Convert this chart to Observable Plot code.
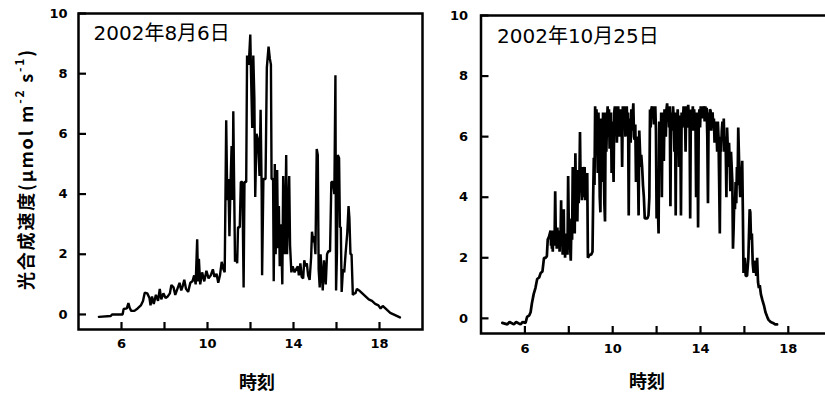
<!DOCTYPE html>
<html>
<head>
<meta charset="utf-8">
<script src="https://cdn.jsdelivr.net/npm/d3@7"></script>
<script src="https://cdn.jsdelivr.net/npm/@observablehq/plot@0.6"></script>
<style>
  html, body { margin: 0; padding: 0; background: #fff; }
  #fig { position: relative; width: 825px; height: 399px; overflow: hidden; background: #fff; }
  #fig svg { position: absolute; top: 0; overflow: visible; }
</style>
</head>
<body>
<div id="fig"></div>
<script>
// Photosynthetic rate over the day, [hour, µmol m-2 s-1]
const aug6 = [
  [4.95,-0.08],[5.5,-0.05],[5.56,0.0],[6.05,0.0],[6.1,0.18],[6.25,0.2],[6.32,0.38],[6.38,0.22],
  [6.45,0.12],[6.6,0.12],[6.75,0.2],[6.9,0.3],[7.0,0.45],[7.08,0.72],[7.2,0.7],[7.3,0.55],
  [7.35,0.3],[7.42,0.6],[7.5,0.35],[7.6,0.65],[7.7,0.45],[7.78,0.85],[7.85,0.5],[7.95,0.7],
  [8.05,0.55],[8.15,0.6],[8.25,0.7],[8.32,0.98],[8.42,0.9],[8.5,0.65],[8.6,0.85],[8.7,1.05],
  [8.78,0.8],[8.85,0.95],[8.92,1.15],[9.0,0.85],[9.1,0.75],[9.2,1.05],[9.3,1.1],[9.38,1.3],
  [9.45,1.0],[9.52,2.5],[9.56,1.1],[9.6,1.85],[9.66,1.0],[9.75,1.4],[9.85,1.1],[9.95,1.45],
  [10.05,1.2],[10.15,1.3],[10.25,1.5],[10.32,1.25],[10.42,1.35],[10.5,1.05],[10.58,1.3],[10.66,1.75],
  [10.74,1.5],[10.8,1.4],[10.87,6.45],[10.92,3.8],[10.97,4.5],[11.02,2.6],[11.07,4.3],[11.12,5.6],
  [11.17,3.8],[11.2,6.75],[11.24,4.2],[11.28,1.75],[11.33,2.0],[11.38,1.7],[11.42,2.9],[11.5,2.9],
  [11.55,4.4],[11.62,4.4],[11.68,0.9],[11.72,4.4],[11.8,4.4],[11.84,8.6],[11.92,8.3],[11.99,9.3],
  [12.03,7.8],[12.08,6.2],[12.13,8.6],[12.18,7.2],[12.22,3.9],[12.28,6.0],[12.35,5.8],[12.42,4.6],
  [12.47,6.8],[12.52,4.1],[12.54,1.3],[12.6,4.5],[12.7,4.5],[12.76,8.2],[12.84,8.9],[12.9,8.5],
  [12.95,8.3],[12.98,4.5],[13.05,4.5],[13.08,1.1],[13.13,5.0],[13.17,2.0],[13.2,3.0],[13.24,4.8],
  [13.28,2.2],[13.32,3.6],[13.36,1.6],[13.4,3.0],[13.44,2.2],[13.48,1.0],[13.52,4.6],[13.56,3.2],
  [13.6,2.0],[13.66,5.3],[13.7,2.0],[13.74,3.0],[13.8,4.6],[13.84,2.3],[13.9,1.4],[13.96,1.6],
  [14.05,1.4],[14.12,1.5],[14.2,1.6],[14.25,1.3],[14.32,1.7],[14.38,1.25],[14.45,1.2],[14.5,1.8],
  [14.56,1.6],[14.62,1.7],[14.68,1.3],[14.75,1.15],[14.82,1.9],[14.86,2.75],[14.92,2.4],[14.96,2.6],
  [15.02,2.0],[15.08,5.5],[15.13,5.3],[15.17,1.5],[15.22,0.9],[15.26,2.0],[15.32,1.3],[15.36,0.8],
  [15.42,1.8],[15.5,1.0],[15.56,2.0],[15.62,2.1],[15.7,2.1],[15.76,4.4],[15.84,4.4],[15.9,4.0],
  [15.95,7.95],[15.98,0.8],[16.02,2.0],[16.06,5.3],[16.12,5.2],[16.16,2.9],[16.2,2.9],[16.24,0.75],
  [16.3,1.5],[16.36,1.4],[16.42,2.0],[16.5,2.7],[16.56,3.6],[16.6,3.2],[16.65,2.0],[16.7,2.0],
  [16.76,0.65],[16.82,0.7],[16.88,0.7],[16.95,0.85],[17.05,0.8],[17.2,0.7],[17.35,0.6],[17.5,0.5],
  [17.65,0.45],[17.8,0.35],[17.95,0.3],[18.05,0.2],[18.15,0.28],[18.25,0.22],[18.35,0.15],[18.5,0.05],
  [18.65,0.0],[18.8,-0.05],[18.95,-0.1]
];

const oct25 = [
  [4.97,-0.15],[5.2,-0.2],[5.3,-0.12],[5.5,-0.2],[5.6,-0.12],[5.8,-0.2],[5.9,-0.12],[6.03,-0.15],
  [6.1,0.05],[6.2,0.1],[6.26,0.2],[6.32,0.5],[6.4,0.8],[6.48,1.0],[6.56,1.3],[6.65,1.35],
  [6.72,1.5],[6.8,1.55],[6.87,2.0],[6.95,2.0],[7.0,2.05],[7.04,2.6],[7.1,2.7],[7.17,2.9],
  [7.19,2.4],[7.21,2.9],[7.23,2.3],[7.25,2.8],[7.27,2.2],[7.29,2.8],[7.31,2.5],[7.33,2.9],
  [7.35,2.4],[7.38,4.2],[7.41,2.6],[7.43,2.9],[7.45,2.3],[7.48,3.0],[7.5,2.4],[7.52,2.9],
  [7.54,2.5],[7.56,2.8],[7.58,2.2],[7.6,2.7],[7.62,2.4],[7.65,3.9],[7.67,2.4],[7.7,2.9],
  [7.72,2.1],[7.74,2.8],[7.77,3.6],[7.79,2.3],[7.81,2.8],[7.83,2.0],[7.86,2.7],[7.88,2.2],
  [7.91,2.8],[7.94,2.1],[7.97,4.7],[8.0,3.0],[8.03,3.3],[8.06,2.4],[8.09,1.9],[8.12,3.2],
  [8.15,2.6],[8.18,5.0],[8.21,3.6],[8.24,4.2],[8.27,2.8],[8.3,5.45],[8.33,3.5],[8.36,4.6],
  [8.39,3.2],[8.42,4.9],[8.45,3.8],[8.48,4.4],[8.51,6.15],[8.54,4.2],[8.57,4.9],[8.6,3.9],
  [8.63,5.0],[8.66,4.0],[8.69,4.6],[8.72,5.0],[8.75,3.9],[8.78,4.8],[8.81,4.2],[8.84,4.8],
  [8.87,2.0],[8.95,2.1],[9.02,2.1],[9.08,2.2],[9.11,4.0],[9.14,5.3],[9.17,4.4],[9.2,7.0],
  [9.23,5.5],[9.26,6.9],[9.29,6.0],[9.32,4.8],[9.35,6.8],[9.38,5.8],[9.41,4.0],[9.44,3.5],
  [9.47,6.6],[9.5,5.8],[9.53,4.5],[9.56,6.8],[9.59,5.2],[9.62,3.8],[9.65,3.2],[9.68,6.8],
  [9.71,5.5],[9.74,6.5],[9.77,7.0],[9.8,6.0],[9.83,6.9],[9.86,5.6],[9.89,6.5],[9.92,6.8],
  [9.95,4.8],[9.98,6.5],[10.01,5.6],[10.04,4.5],[10.07,6.8],[10.1,7.0],[10.13,6.2],[10.16,7.0],
  [10.19,5.8],[10.22,6.6],[10.25,7.0],[10.28,6.4],[10.31,6.0],[10.34,6.9],[10.37,6.5],[10.4,6.8],
  [10.43,5.0],[10.46,7.0],[10.49,6.3],[10.52,6.8],[10.55,7.0],[10.58,6.0],[10.61,6.5],[10.64,7.0],
  [10.67,6.2],[10.7,6.8],[10.73,3.4],[10.76,6.6],[10.79,6.0],[10.82,5.8],[10.85,6.9],[10.88,6.2],
  [10.91,6.7],[10.94,7.1],[10.97,6.0],[11.0,5.9],[11.03,6.4],[11.06,4.5],[11.09,6.0],[11.12,5.4],
  [11.15,5.0],[11.18,3.4],[11.21,6.2],[11.24,5.6],[11.27,5.0],[11.3,5.4],[11.34,5.0],[11.38,4.4],
  [11.42,4.0],[11.46,3.3],[11.52,3.3],[11.58,3.3],[11.63,3.4],[11.67,4.0],[11.7,6.9],[11.73,6.3],
  [11.76,6.9],[11.79,7.0],[11.82,6.6],[11.85,7.0],[11.88,6.4],[11.91,6.8],[11.94,7.0],[11.97,6.2],
  [12.0,3.3],[12.03,4.5],[12.06,3.6],[12.09,2.8],[12.12,6.5],[12.15,5.8],[12.18,5.0],[12.21,6.8],
  [12.24,4.0],[12.27,6.8],[12.3,6.2],[12.33,5.2],[12.36,6.9],[12.39,6.4],[12.42,6.0],[12.45,6.9],
  [12.48,7.1],[12.51,6.5],[12.54,7.0],[12.57,6.3],[12.6,7.0],[12.63,3.7],[12.66,6.8],[12.69,6.2],
  [12.72,6.5],[12.75,7.0],[12.78,6.6],[12.81,5.5],[12.84,6.8],[12.87,3.4],[12.9,6.8],[12.93,6.2],
  [12.96,6.9],[12.99,6.4],[13.02,5.0],[13.05,6.7],[13.08,6.1],[13.11,3.4],[13.14,6.8],[13.17,6.3],
  [13.2,6.5],[13.23,7.0],[13.26,6.4],[13.29,6.9],[13.32,5.5],[13.35,7.0],[13.38,6.3],[13.41,6.5],
  [13.44,7.05],[13.47,6.6],[13.5,6.8],[13.53,3.3],[13.56,6.9],[13.59,6.2],[13.62,6.5],[13.65,7.0],
  [13.68,6.2],[13.71,6.9],[13.74,6.4],[13.77,6.6],[13.8,4.0],[13.83,6.8],[13.86,6.1],[13.89,3.0],
  [13.92,6.5],[13.95,6.9],[13.98,6.3],[14.01,7.0],[14.04,6.7],[14.07,7.0],[14.1,6.6],[14.13,7.0],
  [14.16,6.9],[14.19,6.5],[14.22,7.0],[14.25,6.8],[14.28,6.95],[14.31,6.0],[14.34,3.8],[14.37,6.8],
  [14.4,6.4],[14.43,6.9],[14.46,6.85],[14.49,6.2],[14.52,6.7],[14.55,6.8],[14.58,6.3],[14.61,6.6],
  [14.64,5.8],[14.67,6.0],[14.7,6.5],[14.73,6.1],[14.76,5.5],[14.79,6.5],[14.82,6.0],[14.85,4.5],
  [14.88,2.8],[14.91,6.0],[14.94,5.5],[14.97,6.2],[15.0,6.5],[15.03,5.9],[15.06,6.6],[15.09,5.5],
  [15.12,6.0],[15.15,5.6],[15.18,4.0],[15.21,6.3],[15.24,5.7],[15.27,5.0],[15.3,5.8],[15.33,5.2],
  [15.36,4.2],[15.39,5.5],[15.42,5.0],[15.45,4.5],[15.48,2.3],[15.51,3.0],[15.54,4.0],[15.57,3.6],
  [15.6,4.5],[15.63,3.8],[15.66,5.0],[15.69,4.4],[15.72,6.3],[15.75,5.4],[15.78,4.5],[15.81,4.0],
  [15.84,5.0],[15.87,4.6],[15.9,5.2],[15.93,3.5],[15.96,1.5],[16.02,2.0],[16.06,1.4],[16.12,1.4],
  [16.18,2.0],[16.24,3.6],[16.27,3.5],[16.3,2.6],[16.34,2.8],[16.38,1.8],[16.42,1.5],[16.46,1.8],
  [16.5,1.9],[16.54,1.4],[16.58,2.0],[16.62,1.2],[16.66,1.0],[16.7,1.1],[16.75,0.8],[16.82,0.6],
  [16.9,0.4],[16.96,0.2],[17.04,0.05],[17.1,-0.05],[17.2,-0.12],[17.3,-0.15],[17.4,-0.2],[17.49,-0.2]
];

const panelTitles = ["2002年8月6日", "2002年10月25日"];
const xTicks = [6, 8, 10, 12, 14, 16, 18];
const xTickLabels = [6, 10, 14, 18];
const yTicks = [0, 2, 4, 6, 8, 10];
const xDomain = [4, 20];
const yDomain = [-0.5, 10];
const xLabel = "時刻";
const yLabel = ["光合成速度(μmol m", "-2", " s", "-1", ")"];

const tickFont = "'DejaVu Sans', sans-serif";
const cjkFont = "'DejaVu Sans', 'Noto Sans CJK JP', sans-serif";

function panel(series, title, o) {
  const frameW = o.plotWidth;
  const frameH = o.bottom - o.top;
  // inward tick length in pixels, expressed in each scale's units
  const yTickLen = 8 * (xDomain[1] - xDomain[0]) / frameW;
  const xTickLen = 7 * (yDomain[1] - yDomain[0]) / frameH;
  const svg = Plot.plot({
    width: o.width,
    height: 399,
    marginLeft: o.left,
    marginRight: o.width - o.left - o.plotWidth,
    marginTop: o.top,
    marginBottom: 399 - o.bottom,
    x: {domain: xDomain},
    y: {domain: yDomain},
    style: {background: "transparent", color: "#000"},
    marks: [
      // short tick marks pointing into the frame
      Plot.ruleY(yTicks, {y: (d) => d, x1: xDomain[0], x2: xDomain[0] + yTickLen, stroke: "#000", strokeWidth: 2.2}),
      Plot.ruleX(xTicks, {x: (d) => d, y1: yDomain[0], y2: yDomain[0] + xTickLen, stroke: "#000", strokeWidth: 2.2}),
      // tick labels
      Plot.axisY({
        ticks: yTicks, anchor: "left", tickSize: 0, tickPadding: o.yPad,
        fontSize: 13, fontWeight: "bold", fontFamily: tickFont,
        tickFormat: (d) => String(d), label: null
      }),
      Plot.axisX({
        ticks: xTicks, anchor: "bottom", tickSize: 0, tickPadding: o.xPad,
        fontSize: 13, fontWeight: "bold", fontFamily: tickFont,
        tickFormat: (d) => (xTickLabels.includes(d) ? String(d) : ""), label: null
      }),
      Plot.line(series, {
        x: (d) => d[0], y: (d) => d[1],
        stroke: "#000", strokeWidth: o.lineWidth, strokeLinejoin: "miter"
      }),
      Plot.frame({stroke: "#000", strokeWidth: 2.5}),
      Plot.text([title], {
        frameAnchor: "top-left", textAnchor: "start", lineAnchor: "middle",
        dx: o.titleDx, dy: o.titleDy, text: (d) => d,
        fontSize: 20, fontFamily: cjkFont, fill: "#000"
      })
    ]
  });
  svg.style.left = o.x + "px";

  // x-axis title
  d3.select(svg).append("text")
    .attr("x", o.xLabelX).attr("y", o.xLabelY)
    .attr("text-anchor", "middle").attr("dominant-baseline", "middle")
    .attr("font-family", "'Noto Sans CJK JP', sans-serif")
    .attr("font-weight", "bold").attr("font-size", 18)
    .attr("fill", "#000")
    .text(xLabel);
  return svg;
}

const fig = document.getElementById("fig");

const left = panel(aug6, panelTitles[0], {
  x: 0, width: 430, left: 78, plotWidth: 344, top: 13, bottom: 329,
  yPad: 11, xPad: 9, titleDx: 15, titleDy: 20, xLabelX: 257, xLabelY: 384, lineWidth: 2.4
});
const right = panel(oct25, panelTitles[1], {
  x: 440, width: 400, left: 40.5, plotWidth: 351.2, top: 15, bottom: 333,
  yPad: 13, xPad: 10, titleDx: 16, titleDy: 21, xLabelX: 207, xLabelY: 383, lineWidth: 2.7
});

// y-axis title with superscript units, on the left panel
const yt = d3.select(left).append("text")
  .attr("transform", "translate(28,170) rotate(-90)")
  .attr("text-anchor", "middle").attr("dominant-baseline", "middle")
  .attr("font-family", "'Noto Sans CJK JP', sans-serif")
  .attr("font-weight", "bold").attr("font-size", 18)
  .attr("fill", "#000")
  .attr("textLength", 240).attr("lengthAdjust", "spacing");
yt.append("tspan").text(yLabel[0]);
yt.append("tspan").attr("dy", -7).attr("font-size", 12).text(yLabel[1]);
yt.append("tspan").attr("dy", 7).text(yLabel[2]);
yt.append("tspan").attr("dy", -7).attr("font-size", 12).text(yLabel[3]);
yt.append("tspan").attr("dy", 7).text(yLabel[4]);

fig.appendChild(left);
fig.appendChild(right);
</script>
</body>
</html>
